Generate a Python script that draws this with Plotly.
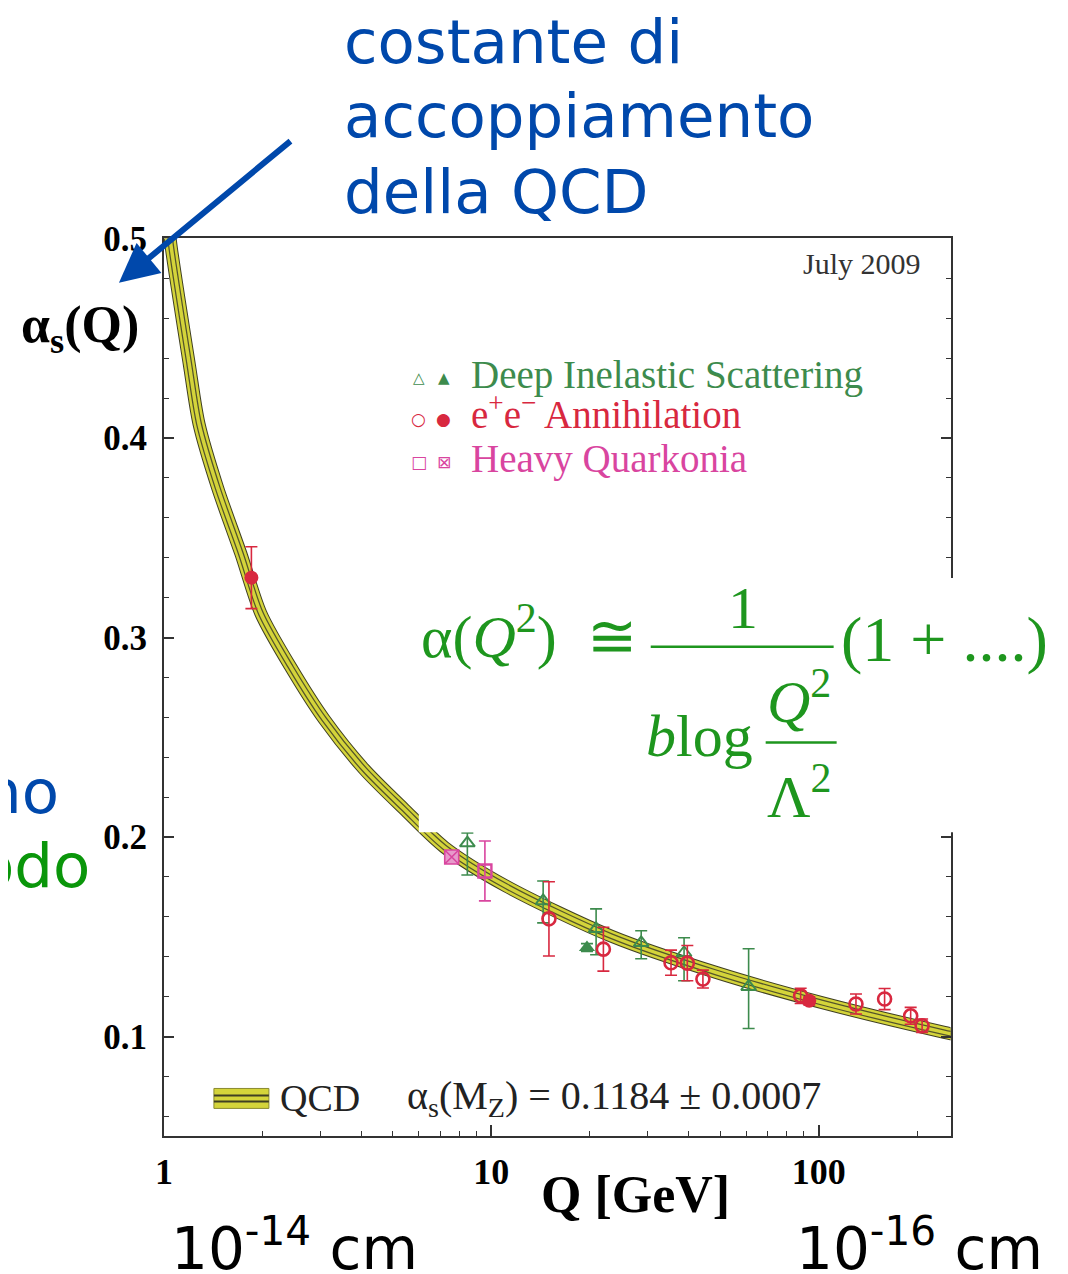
import plotly.graph_objects as go

W, H = 1068, 1274

# ---------------- data ----------------
# QCD running coupling band (central curve), Q in GeV
band_q = [1.03, 1.05, 1.195, 1.28, 1.459, 1.718, 1.978, 2.443, 3.087, 4.089,
          5.417, 7.18, 11.1, 23.2, 48.7, 102, 242, 260]
band_a = [0.510, 0.497, 0.437, 0.407, 0.375, 0.342, 0.312, 0.285, 0.259, 0.234,
          0.214, 0.195, 0.1754, 0.1504, 0.1321, 0.1171, 0.1021, 0.1010]

# Deep Inelastic Scattering
dis_open_q = [8.45, 14.4, 20.9, 28.7, 38.8, 61.1]
dis_open_a = [0.197, 0.168, 0.154, 0.147, 0.142, 0.125]
dis_open_ep = [0.005, 0.010, 0.010, 0.006, 0.0075, 0.019]
dis_open_em = [0.016, 0.011, 0.013, 0.008, 0.014, 0.021]
dis_fill_q = [19.6]
dis_fill_a = [0.1446]
dis_fill_e = [0.002]

# e+e- Annihilation
ee_open_q = [15.0, 22.0, 35.4, 39.7, 44.3, 88.1, 130, 159, 191, 207]
ee_open_a = [0.159, 0.1438, 0.137, 0.1368, 0.1288, 0.1204, 0.1163, 0.1188, 0.1104, 0.1054]
ee_open_e = [0.0186, 0.011, 0.0063, 0.0088, 0.0045, 0.0038, 0.005, 0.0053, 0.0042, 0.0034]
ee_fill_q = [1.85, 93.6]
ee_fill_a = [0.330, 0.1179]
ee_fill_e = [0.0155, 0.002]

# Heavy Quarkonia
hq_open_q = [9.56]
hq_open_a = [0.183]
hq_open_e = [0.015]
hq_fill_q = [7.57]
hq_fill_a = [0.190]
hq_fill_e = [0.002]

x_tick_vals = [1, 10, 100]
x_tick_text = ["1", "10", "100"]
x_minor_vals = [2, 3, 4, 5, 6, 7, 8, 9, 20, 30, 40, 50, 60, 70, 80, 90, 200]

# ---------------- colours / fonts ----------------
GREEN = "#3d8b4d"
RED = "#d8283f"
MAGENTA = "#d9459f"
BLUE = "#0048ab"
EQ_GREEN = "#1e961e"
YELLOW = "#d4d43a"
DARK = "#3f3f22"
SERIF = "Liberation Serif"
SANS = "DejaVu Sans"

# page-pixel -> layout-pixel correction (measured from the rendered page)
SX, BX = 0.992, 16.0
SY, BY = 0.988, 25.4


def tx(x):
    return (x - BX) / SX


def ty(y):
    return (y - BY) / SY


def px(x):
    return tx(x) / W


def py(y):
    return 1 - ty(y) / H


fig = go.Figure()

# QCD band: layered lines give the striped look
for width, col in [(13, DARK), (11, YELLOW), (6, "#55552a"), (3.5, YELLOW)]:
    fig.add_trace(go.Scatter(x=band_q, y=band_a, mode="lines",
                             line=dict(color=col, width=width, shape="spline", smoothing=0.8),
                             hoverinfo="skip"))

# DIS
fig.add_trace(go.Scatter(x=dis_open_q, y=dis_open_a, mode="markers",
                         marker=dict(symbol="triangle-up-open", size=13, color=GREEN,
                                     line=dict(width=2, color=GREEN)),
                         error_y=dict(type="data", array=dis_open_ep, arrayminus=dis_open_em,
                                      color=GREEN, thickness=1.6, width=6)))
fig.add_trace(go.Scatter(x=dis_fill_q, y=dis_fill_a, mode="markers",
                         marker=dict(symbol="triangle-up", size=14, color=GREEN),
                         error_y=dict(type="data", array=dis_fill_e, color=GREEN,
                                      thickness=1.6, width=6)))
# e+e-
fig.add_trace(go.Scatter(x=ee_open_q, y=ee_open_a, mode="markers",
                         marker=dict(symbol="circle-open", size=13, color=RED,
                                     line=dict(width=2.6, color=RED)),
                         error_y=dict(type="data", array=ee_open_e, color=RED,
                                      thickness=1.6, width=6)))
fig.add_trace(go.Scatter(x=ee_fill_q, y=ee_fill_a, mode="markers",
                         marker=dict(symbol="circle", size=14, color=RED),
                         error_y=dict(type="data", array=ee_fill_e, color=RED,
                                      thickness=1.6, width=6)))
# Heavy quarkonia
fig.add_trace(go.Scatter(x=hq_open_q, y=hq_open_a, mode="markers",
                         marker=dict(symbol="square-open", size=13, color=MAGENTA,
                                     line=dict(width=2.4, color=MAGENTA)),
                         error_y=dict(type="data", array=hq_open_e, color=MAGENTA,
                                      thickness=1.6, width=6)))
fig.add_trace(go.Scatter(x=hq_fill_q, y=hq_fill_a, mode="markers",
                         marker=dict(symbol="square-x", size=14, color="#e79acb",
                                     line=dict(width=1.6, color=MAGENTA)),
                         error_y=dict(type="data", array=hq_fill_e, color=MAGENTA,
                                      thickness=1.6, width=6)))

axis_col = "#333333"
fig.update_layout(
    width=W, height=H, autosize=False,
    margin=dict(l=0, r=0, t=0, b=0),
    paper_bgcolor="white", plot_bgcolor="white",
    showlegend=False,
    xaxis=dict(type="log", range=[0, 2.403], domain=[px(163), px(950)],
               tickmode="array", tickvals=x_tick_vals, ticktext=x_tick_text,
               ticks="inside", ticklen=11, tickwidth=1.5, tickcolor=axis_col,
               showline=True, linecolor=axis_col, linewidth=2, mirror=True,
               showgrid=False, zeroline=False, ticklabelstandoff=2,
               tickfont=dict(family=SERIF, size=36, color="black", weight="bold"),
               minor=dict(tickmode="array", tickvals=x_minor_vals, ticks="inside",
                          ticklen=5, tickwidth=1.2, tickcolor=axis_col, showgrid=False)),
    yaxis=dict(range=[0.05, 0.5], domain=[py(1138), py(237.5)],
               tickmode="linear", tick0=0, dtick=0.1, tickformat=".1f",
               ticks="inside", ticklen=10, tickwidth=1.5, tickcolor=axis_col,
               showline=True, linecolor=axis_col, linewidth=2, mirror="allticks",
               showgrid=False, zeroline=False, ticklabelstandoff=8,
               tickfont=dict(family=SERIF, size=35, color="black", weight="bold"),
               minor=dict(tick0=0, dtick=0.02, ticks="inside", ticklen=5,
                          tickwidth=1.2, tickcolor=axis_col, showgrid=False)),
)

shapes = []
# white box behind the formula (covers part of the plot)
shapes.append(dict(type="rect", xref="paper", yref="paper", layer="above",
                   x0=px(418), x1=px(1068) + 0.02, y0=py(833), y1=py(578),
                   fillcolor="white", line=dict(width=0)))
# formula fraction bars
shapes.append(dict(type="line", xref="paper", yref="paper", layer="above",
                   x0=px(650), x1=px(833), y0=py(647), y1=py(647),
                   line=dict(color=EQ_GREEN, width=2.5)))
shapes.append(dict(type="line", xref="paper", yref="paper", layer="above",
                   x0=px(765), x1=px(836), y0=py(743), y1=py(743),
                   line=dict(color=EQ_GREEN, width=2.5)))
# QCD legend swatch
shapes.append(dict(type="rect", xref="paper", yref="paper", layer="above",
                   x0=px(213), x1=px(268), y0=py(1110), y1=py(1090),
                   fillcolor=YELLOW, line=dict(width=1, color="#8a8a30")))
for yy in (1097, 1103):
    shapes.append(dict(type="line", xref="paper", yref="paper", layer="above",
                       x0=px(213), x1=px(268), y0=py(yy), y1=py(yy),
                       line=dict(color=DARK, width=2)))
fig.update_layout(shapes=shapes)

anns = []


def ann(text, x, y, size, color, family, xanchor="left", yanchor="middle", weight="normal"):
    anns.append(dict(text=text, x=px(x), y=py(y), xref="paper", yref="paper",
                     showarrow=False, xanchor=xanchor, yanchor=yanchor,
                     font=dict(size=size, color=color, family=family, weight=weight)))


NB = "\u00a0"
# blue title text
ann("costante di", 341, 40, 61, BLUE, SANS)
ann("accoppiamento", 341, 114, 61, BLUE, SANS)
ann("della QCD", 341, 190, 61, BLUE, SANS)
# cut-off side words
ann("no", 60, 792, 61, BLUE, SANS, xanchor="right")
ann("odo", 91, 866, 61, "#0a960a", SANS, xanchor="right")

# arrow
anns.append(dict(text="", x=px(118), y=py(282), xref="paper", yref="paper",
                 showarrow=True, ax=173, ay=-143, arrowhead=2, arrowsize=1.3,
                 arrowwidth=6, arrowcolor=BLUE, standoff=0))

# plot labels
ann("July 2009", 922, 263, 30, "#333333", SERIF, xanchor="right")
ann("α<sub>s</sub>(Q)", 18, 328, 52, "black", SERIF, weight="bold")
ann("Q [GeV]", 538, 1196, 52, "black", SERIF, weight="bold")

# legend
ann("△", 418, 377, 15, GREEN, SANS, xanchor="center")
ann("▲", 443, 377, 15, GREEN, SANS, xanchor="center")
ann("○", 418, 419, 17, RED, SANS, xanchor="center")
ann("●", 443, 419, 17, RED, SANS, xanchor="center")
ann("□", 418, 462, 17, MAGENTA, SANS, xanchor="center")
ann("⊠", 443, 462, 17, MAGENTA, SANS, xanchor="center")
ann("Deep Inelastic Scattering", 468, 398, 39, GREEN, SERIF, yanchor="bottom")
ann("e<sup>+</sup>e<sup>−</sup> Annihilation", 468, 438, 39, RED, SERIF, yanchor="bottom")
ann("Heavy Quarkonia", 468, 483, 39, MAGENTA, SERIF, yanchor="bottom")

# QCD legend text
ann("QCD", 277, 1100, 38, "#222222", SERIF)
ann("α<sub>s</sub>(M<sub>Z</sub>)" + NB + "=" + NB + "0.1184" + NB + "±" + NB + "0.0007",
    404, 1100, 40, "#222222", SERIF)

# formula
ann("α(<i>Q</i><sup>2</sup>)" + NB + " ≅", 418, 672, 60, EQ_GREEN, SERIF, yanchor="bottom")
ann("1", 742, 608, 60, EQ_GREEN, SERIF, xanchor="center")
ann("(1 + ....)", 838, 640, 64, EQ_GREEN, SERIF)
ann("<i>b</i>log", 643, 736, 60, EQ_GREEN, SERIF)
ann("<i>Q</i><sup>2</sup>", 764, 738, 60, EQ_GREEN, SERIF, yanchor="bottom")
ann("Λ<sup>2</sup>", 764, 833, 60, EQ_GREEN, SERIF, yanchor="bottom")

# bottom distance labels
ann("10<sup>-14</sup> cm", 168, 1287, 58, "black", SANS, yanchor="bottom")
ann("10<sup>-16</sup> cm", 793, 1287, 58, "black", SANS, yanchor="bottom")

fig.update_layout(annotations=anns)

fig.write_html("out.html")
